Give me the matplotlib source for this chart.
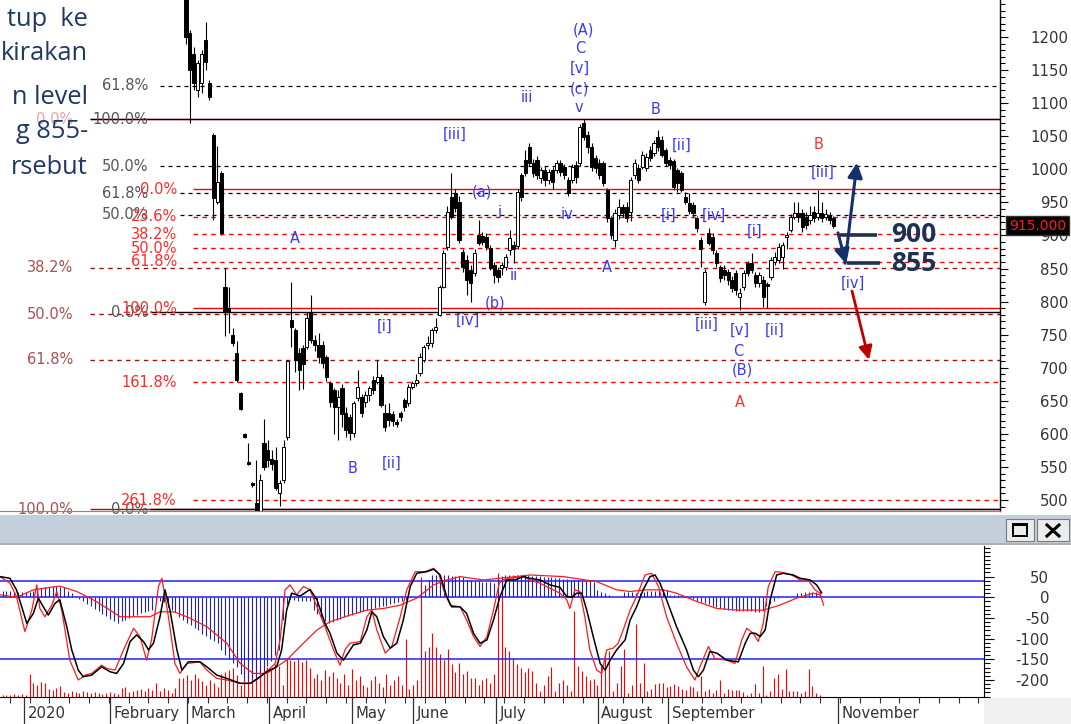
import numpy as np
import matplotlib.pyplot as plt
import matplotlib.transforms as mtransforms
from matplotlib.patches import Rectangle
from matplotlib.ticker import MultipleLocator

plt.rcParams['font.family'] = ['DejaVu Sans']
plt.rcParams['axes.unicode_minus'] = False

W, H = 1071, 724
BAR_PX = 3.9    # pixel step of one daily bar
X0_PX = 186     # pixel of bar 0

# ---- daily candles (bar 0 = early February) ----
opens = [1270, 1206, 1175, 1120, 1130, 1196, 1130, 1052, 951, 994,
         822, 790, 750, 722, 662, 600, 558, 525, 495, 482,
         586, 575, 562, 560, 511, 530, 595, 772, 757, 722,
         730, 731, 784, 742, 735, 734, 716, 677, 666, 641,
         670, 632, 625, 601, 655, 656, 648, 659, 681, 678,
         686, 632, 632, 630, 618, 632, 651, 647, 671, 677,
         692, 712, 734, 737, 757, 780, 822, 883, 958, 964,
         951, 875, 863, 848, 843, 901, 899, 898, 881, 855,
         848, 851, 852, 878, 886, 884, 991, 1014, 1034, 1010,
         1014, 987, 999, 984, 999, 999, 1010, 1004, 984, 984,
         1007, 1010, 1070, 1052, 1034, 1017, 1010, 1010, 969, 926,
         893, 931, 943, 943, 935, 991, 1002, 1004, 1002, 1029,
         1025, 1049, 1044, 1029, 1014, 1012, 999, 994, 958, 949,
         946, 926, 893, 799, 904, 898, 873, 852, 848, 845,
         833, 843, 807, 822, 858, 858, 840, 828, 833, 827,
         837, 860, 863, 868, 898, 908, 928, 934, 934, 928,
         923, 936, 928, 934, 928, 931, 926]
highs = [1285, 1210, 1185, 1165, 1180, 1222, 1135, 1055, 1035, 998,
         851, 822, 760, 740, 664, 602, 586, 527, 560, 540,
         623, 590, 575, 580, 530, 590, 712, 830, 760, 730,
         735, 785, 810, 750, 753, 740, 720, 680, 670, 666,
         675, 640, 630, 650, 697, 660, 665, 672, 688, 712,
         690, 645, 647, 635, 622, 635, 655, 675, 680, 690,
         722, 735, 748, 760, 775, 825, 878, 945, 994, 970,
         960, 880, 870, 855, 880, 923, 905, 903, 885, 860,
         852, 860, 872, 908, 892, 970, 994, 1029, 1040, 1015,
         1020, 1004, 1005, 1000, 1003, 1014, 1014, 1008, 988, 1008,
         1012, 1068, 1076, 1058, 1040, 1022, 1015, 1012, 972, 930,
         940, 955, 948, 950, 988, 1015, 1008, 1028, 1025, 1035,
         1045, 1059, 1050, 1032, 1018, 1015, 1002, 998, 965, 964,
         950, 930, 898, 850, 912, 903, 878, 856, 855, 850,
         838, 848, 820, 848, 862, 873, 845, 845, 838, 830,
         868, 875, 888, 890, 905, 933, 951, 950, 940, 935,
         945, 945, 968, 951, 940, 936, 930]
lows = [1190, 1070, 1120, 1110, 1115, 1150, 1105, 923, 948, 901,
        748, 753, 733, 678, 636, 594, 553, 520, 470, 475,
        545, 550, 545, 515, 491, 525, 590, 731, 694, 666,
        668, 728, 738, 725, 707, 700, 680, 640, 600, 590,
        610, 596, 590, 595, 650, 625, 640, 650, 660, 675,
        640, 605, 612, 612, 610, 620, 635, 642, 668, 672,
        688, 708, 728, 732, 752, 778, 820, 878, 925, 935,
        888, 845, 810, 800, 838, 885, 885, 878, 848, 828,
        830, 840, 848, 870, 858, 880, 952, 990, 1005, 988,
        985, 980, 975, 978, 970, 995, 990, 985, 960, 980,
        980, 1005, 1045, 1025, 998, 995, 985, 975, 920, 895,
        883, 925, 928, 920, 922, 985, 980, 1000, 998, 1012,
        1020, 1028, 1018, 1005, 1000, 968, 965, 965, 948, 932,
        928, 905, 852, 795, 885, 872, 852, 830, 832, 825,
        815, 810, 787, 818, 838, 843, 822, 822, 792, 790,
        832, 855, 858, 850, 880, 905, 925, 920, 905, 910,
        918, 920, 924, 920, 924, 918, 912]
closes = [1200, 1150, 1130, 1160, 1175, 1162, 1110, 956, 981, 904,
          784, 785, 737, 681, 638, 596, 555, 522, 478, 530,
          550, 560, 555, 518, 526, 580, 710, 762, 712, 697,
          705, 775, 742, 735, 716, 707, 686, 648, 641, 656,
          630, 606, 601, 647, 671, 632, 659, 669, 666, 686,
          644, 610, 621, 620, 615, 625, 641, 671, 677, 681,
          716, 731, 737, 757, 762, 822, 873, 935, 928, 941,
          893, 852, 833, 828, 873, 889, 890, 883, 851, 840,
          837, 855, 867, 896, 880, 965, 958, 994, 1010, 994,
          991, 999, 984, 996, 981, 1010, 996, 991, 964, 1004,
          988, 1064, 1049, 1034, 1004, 1002, 991, 979, 926, 901,
          934, 943, 934, 926, 984, 1010, 984, 1022, 1019, 1017,
          1040, 1034, 1022, 1010, 1007, 973, 979, 969, 951, 937,
          934, 911, 880, 845, 889, 878, 858, 836, 840, 833,
          821, 818, 813, 843, 843, 848, 828, 840, 807, 823,
          863, 867, 883, 885, 901, 928, 934, 928, 913, 916,
          931, 926, 934, 926, 932, 923, 915]

# ---- indicator panel, one value per bar from bar -47 ----
hist = [15, 16, 15, 14,
        12, 12, 13, 14, 16,
        20, 23, 25, 26, 27, 27, 26, 24,
        16, 10, 2,
        -5, -10, -16,
        -22, -28, -34, -40, -46, -52, -57, -61,
        -58, -54, -50, -46, -42, -38, -35, -32, -30,
        -14, -10, -12,
        -24, -30, -36, -48,
        -56, -62, -68, -74, -80,
        -88, -94, -100, -105, -110,
        -128, -140, -150, -160, -168,
        -186, -196, -204, -200,
        -192, -184, -176,
        -165, -155, -140, -127,
        -55, -15,
        -4, -6, -8, -10, -8, -10,
        -30, -40, -50, -58, -63, -60,
        -55, -52, -48, -45, -42, -39, -36, -33, -30,
        -28, -26, -24, -22, -20, -17, -14, -11, -8, -6,
        0, 0, 0,
        18, 30, 42, 54,
        55, 55, 54, 53, 52, 52, 51, 50,
        42, 41, 40, 39, 38, 37, 36, 35,
        48, 52, 54, 55, 54, 54, 54,
        54, 53, 52, 52, 51, 50, 49, 48, 47, 46, 45, 44, 43, 42, 41, 40, 40, 39, 38,
        18, 14, 10, 6,
        0, 0, 0,
        14, 13, 12, 11, 10,
        14, 15, 16, 16, 17, 18, 18,
        6, 6, 6, 5, 4,
        -2, -5, -8, -11, -14, -17, -20, -23, -26, -28, -31,
        -31, -32, -33, -33, -34, -34, -35, -35, -34,
        -22, -15, -8, -2,
        0, 0, 0, 0,
        10, 11, 12, 12, 13, 14, 14]
volume = [6, 5, 6, 7, 6, 8,
          6, 55,
          35, 30, 36, 34,
          20, 18, 22, 27,
          12, 10, 14, 12, 10, 14, 12, 10, 12,
          10, 8, 10, 12, 10,
          8, 22, 24, 12,
          15, 18, 20, 15, 22, 18,
          35, 14, 22, 18, 10, 22,
          47, 45, 52,
          40, 55, 45,
          38, 30, 42, 35, 23,
          55, 60, 65, 70, 52, 30,
          70, 110, 140, 164,
          70, 85, 72, 65, 80, 75,
          30, 95, 90, 88, 92, 85, 90,
          70, 45, 55, 40, 65, 50, 60,
          45, 35, 55, 30, 67, 40, 50, 30, 25,
          40, 50, 35, 25, 55, 30, 40, 51, 30,
          140, 20, 30, 40,
          290, 110, 120, 155, 120, 105, 90, 115,
          80, 60, 83, 55, 63, 45, 47, 30, 40, 47, 35, 55,
          300, 290,
          120, 110, 95, 80, 70, 60,
          70, 62, 35, 15, 30, 50, 73, 15, 35, 40, 30, 15,
          208, 75, 63, 50, 40, 43,
          30, 75, 107, 110, 15, 35,
          75, 115, 10, 30, 177, 35, 83, 15,
          20, 32, 35, 35, 24, 27, 31, 27, 20,
          18, 27, 25, 15, 50, 15, 20, 10, 18,
          42, 10, 20, 18, 18, 18, 12, 6,
          10, 31, 10, 75, 6, 15,
          47, 55, 20, 67, 15, 15,
          15, 10, 15, 67, 27, 10, 4]

# oscillator (black), fast oscillator (red) and its average, read at turning points
osc_days = [-47.7, -45.1, -43.4, -40.7, -39.0, -37.7, -36.4, -35.1, -33.4, -32.1,
            -30.3, -29.0, -27.3, -26.0, -23.8, -21.2, -19.0, -17.3, -15.5, -13.8,
            -12.1, -10.3, -9.0, -7.7, -6.0, -4.7, -3.4, -1.6, -0.3, 1.4,
            4.4, 6.2, 8.8, 11.4, 14.9, 17.5, 20.1, 21.8, 24.4, 25.7,
            27.0, 28.3, 30.5, 33.1, 34.9, 37.0, 38.3, 40.1, 41.8, 44.4,
            46.2, 47.9, 49.2, 50.5, 52.2, 54.0, 55.7, 57.4, 59.2, 60.9,
            63.5, 65.3, 67.0, 68.7, 70.0, 72.2, 73.9, 75.7, 77.4, 79.2,
            80.9, 82.6, 84.4, 86.6, 88.6,
            90.4, 93.0, 95.6, 98.2, 100.0, 101.3, 102.6, 103.9, 105.2, 106.9,
            108.7, 110.0, 111.3, 113.0, 115.2, 116.5, 118.2, 119.9, 121.7, 123.0,
            124.3, 126.0, 128.6, 131.2, 133.0, 134.3, 135.6, 137.3, 139.1, 141.7,
            144.7, 146.5, 147.8, 149.1, 150.4, 151.7, 153.0, 154.7, 156.4, 159.0,
            160.8, 163.4, 165.1, 166.4]
osc_black = [50, 46, 18, -63, -39, -2, -23, -43, -15, -6,
             -71, -127, -176, -192, -188, -168, -180, -184, -160, -107,
             -91, -107, -127, -111, -47, 18, -31, -127, -176, -156,
             -156, -168, -188, -196, -208, -208, -192, -180, -168, -127,
             -31, 10, 3, 19, -6, -63, -87, -135, -152, -115,
             -111, -79, -35, -47, -95, -123, -111, -55, 26, 58,
             62, 68, 54, 2, -23, -23, -39, -87, -111, -103,
             -55, 2, 42, 42, 50,
             46, 42, 30, 24, 2, 0, 10, 10, -31, -95,
             -160, -176, -152, -127, -103, -55, -23, 18, 50, 54,
             34, -6, -71, -127, -176, -192, -176, -131, -135, -152,
             -156, -111, -87, -87, -95, -79, -6, 54, 58, 54,
             46, 42, 30, 11]
red_days = [-47.7, -45.1, -43.4, -41.2, -39.4, -38.1, -37.3, -36.0, -34.2, -32.9,
            -31.6, -29.5, -27.3, -25.5, -23.8, -21.2, -19.9, -17.7, -15.5, -12.9,
            -11.2, -9.5, -8.2, -6.4, -5.5, -3.8, -2.1, -0.8, 1.0, 4.4,
            6.2, 8.8, 11.4, 14.9, 17.5, 19.2, 21.0, 22.7, 24.0, 25.3,
            26.6, 27.9, 29.6, 31.4, 33.1, 34.9, 37.0, 39.2, 40.9, 42.2,
            43.5, 46.2, 47.9, 49.2, 50.5, 52.7, 54.4, 56.6, 58.3, 60.5,
            63.1, 65.3, 66.6, 67.9, 69.6, 72.2, 73.9, 75.7, 77.4, 79.2,
            80.9, 82.4, 83.5, 85.3, 88.6,
            90.4, 93.0, 95.6, 98.2, 100.0, 100.8, 102.1, 103.4, 104.7, 106.0,
            107.8, 109.1, 110.4, 112.1, 113.4, 114.7, 116.5, 118.2, 120.4, 122.1,
            123.9, 126.0, 128.6, 131.2, 133.4, 134.7, 136.9, 138.6, 141.7, 143.8,
            145.6, 146.9, 148.6, 149.9, 151.2, 152.5, 154.3, 156.4, 158.6, 160.8,
            162.9, 164.7, 166.0, 166.9]
osc_red = [50, 34, 2, -83, -31, 30, -27, -47, -19, 14,
           -31, -152, -200, -188, -184, -164, -172, -176, -127, -75,
           -95, -152, -103, 26, 46, -47, -160, -184, -160, -156,
           -176, -196, -200, -208, -208, -200, -184, -172, -160, -103,
           18, 30, 6, 26, 18, -23, -71, -127, -164, -127,
           -111, -107, -47, -31, -79, -135, -119, -47, 18, 62,
           62, 70, 58, 18, -19, -23, -55, -95, -119, -95,
           -31, 34, 42, 46, 50,
           42, 34, 22, 10, -6, -27, 18, 14, -47, -127,
           -176, -184, -127, -123, -111, -79, -31, 2, 54, 58,
           26, -47, -111, -168, -200, -168, -119, -148, -152, -160,
           -103, -75, -87, -107, -63, 26, 62, 60, 54, 42,
           42, 18, 10, -19]
ma_days = [-47.7, -43.4, -39.0, -34.7, -32.1, -27.7, -23.4, -19.0, -16.4, -12.9,
           -8.6, -6.0, -2.5, 1.0, 6.2, 11.4, 14.9, 18.3, 21.8, 24.4,
           27.0, 30.5, 34.9, 38.3, 43.5, 47.9, 52.2, 56.6, 60.9, 65.3,
           68.7, 72.2, 78.3, 82.6, 88.6, 90.4, 99.1, 107.8, 113.0, 116.5,
           120.8, 125.2, 128.6, 133.8, 139.1, 144.3, 151.2, 155.5, 159.9, 164.2,
           166.0]
osc_ma = [6, 0, 18, 24, 27, 14, -6, -31, -47, -47,
          -47, -35, -35, -47, -71, -111, -160, -184, -184, -168,
          -152, -119, -79, -59, -43, -31, -27, -19, -2, 30,
          42, 50, 42, 46, 52, 54, 50, 38, 18, 14,
          18, 18, 10, -10, -27, -31, -31, -19, -2, 10,
          6]

# ---- fibonacci levels ----
fib_black = [1126, 1076, 1005, 964, 931, 784, 486]
fib_black_lab = ['61.8%', '100.0%', '50.0%', '61.8%', '50.0%', '0.0%', '0.0%']
fib_red = [970, 928, 902, 881, 860, 790, 678, 500]
fib_red_lab = ['0.0%', '23.6%', '38.2%', '50.0%', '61.8%', '100.0%', '161.8%', '261.8%']
fib_brown = [1076, 851, 781, 712, 486]
fib_brown_lab = ['0.0%', '38.2%', '50.0%', '61.8%', '100.0%']

# ---- elliott wave labels (text, bar, price, colour) ----
waves = [('A', 27.9, 895, 'b'), ('B', 42.6, 548, 'b'), ('[i]', 50.8, 763, 'b'),
         ('[ii]', 52.8, 556, 'b'), ('[iii]', 69.0, 1053, 'b'), ('[iv]', 72.3, 771, 'b'),
         ('(a)', 75.9, 966, 'b'), ('(b)', 79.2, 798, 'b'), ('i', 80.5, 935, 'b'),
         ('ii', 84.1, 839, 'b'), ('iii', 87.4, 1109, 'b'), ('iv', 97.7, 931, 'b'),
         ('(A)', 101.8, 1211, 'b'), ('C', 101.0, 1182, 'b'), ('[v]', 101.0, 1152, 'b'),
         ('(c)', 101.0, 1121, 'b'), ('v', 100.8, 1093, 'b'), ('B', 120.3, 1091, 'b'),
         ('A', 108.0, 851, 'b'), ('[ii]', 127.2, 1037, 'b'), ('[i]', 123.8, 931, 'b'),
         ('[iv]', 135.4, 931, 'b'), ('[iii]', 133.6, 766, 'b'), ('[v]', 142.1, 756, 'b'),
         ('C', 141.5, 725, 'b'), ('(B)', 142.6, 697, 'b'), ('[i]', 145.9, 907, 'b'),
         ('[ii]', 151.0, 756, 'b'), ('[iii]', 163.3, 996, 'b'), ('B', 162.3, 1038, 'r'),
         ('A', 142.1, 647, 'r'), ('[iv]', 171.0, 828, 'b')]

months = ['2020', 'February', 'March', 'April', 'May', 'June', 'July',
          'August', 'September', 'November']
month_pos = [-41.4, -19.0, 1.0, 22.4, 44.0, 59.9, 81.6, 108.1, 126.4, 170.7]

last_price = 915
target_hi, target_lo = 900, 855

note_lines = [('tup  ke', 20), ('kirakan', 53), ('n level', 97), ('g 855-', 132), ('rsebut', 167)]


def px2bar(px):  # pixel x -> bar index
    return (px - X0_PX) / BAR_PX


fig = plt.figure(figsize=(W / 100, H / 100), dpi=100, facecolor='white')
ax = fig.add_axes([0, 1 - 511 / H, 1000 / W, 511 / H])
ax2 = fig.add_axes([0, 1 - 697 / H, 984 / W, 151 / H])
xlim = (px2bar(0), px2bar(1000))

# ---------------- main price chart ----------------
ax.set_xlim(*xlim)
ax.set_ylim(483.4, 1256)

BLUE, RED = '#3838ff', '#ff3030'
dash = (0, (3.2, 3.2))

# fibonacci lines + labels
for p, lab in zip(fib_brown, fib_brown_lab):
    solid = p in (1076, 486)
    col = '#ff4040' if p == 1076 else '#a01010'
    ax.hlines(p, px2bar(90), xlim[1], color=col, lw=1.0, linestyles='-' if solid else dash, zorder=1)
    ax.text(px2bar(73), p, lab, ha='right', va='center', fontsize=10.5,
            color='#f0a0a0' if p == 1076 else '#a85050', zorder=2)
for p, lab in zip(fib_black, fib_black_lab):
    solid = p in (1076, 784, 486)
    x0 = 90 if p == 1076 else (150 if solid else (160 if p > 1000 else 180))
    ax.hlines(p, px2bar(x0), xlim[1], color='black', lw=1.0 if solid else 0.9,
              linestyles='-' if solid else dash, zorder=1.5)
    ax.text(px2bar(148), p, lab, ha='right', va='center', fontsize=10.5, color='#555555', zorder=2)
for p, lab in zip(fib_red, fib_red_lab):
    solid = p in (970, 790)
    ax.hlines(p, px2bar(193), xlim[1], color='#ff0000', lw=1.0, linestyles='-' if solid else dash, zorder=1.6)
    ax.text(px2bar(177), p, lab, ha='right', va='center', fontsize=10.5, color='#ff2a2a', zorder=2)

# candles
o, h, l, c = map(np.array, (opens, highs, lows, closes))
days = np.arange(len(c))
up = c >= o
ax.vlines(days, l, h, color='black', lw=0.8, zorder=3)
lo = np.minimum(o, c)
ht = np.maximum(np.abs(c - o), 1.5)
ax.bar(days[up], ht[up], bottom=lo[up], width=0.78, facecolor='white', edgecolor='black', lw=0.7, zorder=4)
ax.bar(days[~up], ht[~up], bottom=lo[~up], width=0.78, facecolor='black', edgecolor='black', lw=0.7, zorder=4)

# wave labels
for txt, d, p, col in waves:
    ax.text(d, p, txt, ha='center', va='center', fontsize=10.5,
            color=BLUE if col == 'b' else RED, zorder=6)

# forecast arrows
NAVY = '#15306a'
ax.annotate('', xy=(px2bar(857), 1010), xytext=(px2bar(845), 858),
            arrowprops=dict(arrowstyle='-|>', color=NAVY, lw=2.2, mutation_scale=22, shrinkA=0, shrinkB=0), zorder=7)
ax.annotate('', xy=(px2bar(846), 857), xytext=(px2bar(838), 904),
            arrowprops=dict(arrowstyle='-|>', color=NAVY, lw=2.2, mutation_scale=22, shrinkA=0, shrinkB=0), zorder=7)
ax.annotate('', xy=(px2bar(869), 712), xytext=(px2bar(852), 816),
            arrowprops=dict(arrowstyle='-|>', color='#c00000', lw=2.0, mutation_scale=20, shrinkA=0, shrinkB=0), zorder=7)
ax.hlines(target_hi + 1, px2bar(840), px2bar(877), color='#1f3050', lw=2.6, zorder=7)
ax.hlines(target_lo + 3, px2bar(847), px2bar(880), color='#1f3050', lw=2.6, zorder=7)
for val in (target_hi, target_lo):
    ax.text(px2bar(891), val + (1 if val == target_hi else 3), str(val), ha='left', va='center',
            fontsize=19, fontweight='bold', color='#1f3050',
            family=['Open Sans', 'DejaVu Sans'], zorder=7)

# right axis
for s in ('left', 'top'):
    ax.spines[s].set_visible(False)
ax.spines['bottom'].set_color('#888888')
ax.spines['right'].set_linewidth(1.0)
ax.set_xticks([])
ax.yaxis.tick_right()
ax.set_yticks(range(500, 1201, 50))
ax.yaxis.set_minor_locator(MultipleLocator(10))
ax.tick_params(axis='y', which='major', length=6, width=0.8, pad=43, labelsize=10.7, labelcolor='#333333')
ax.tick_params(axis='y', which='minor', length=3.5, width=0.8)
for t in ax.get_yticklabels():
    t.set_ha('right')
ax.text(1.009, last_price, '%.3f' % last_price, transform=mtransforms.blended_transform_factory(ax.transAxes, ax.transData),
        ha='left', va='center', fontsize=10, color='#ff1a1a', clip_on=False, zorder=10,
        bbox=dict(facecolor='black', edgecolor='#333333', boxstyle='square,pad=0.2'))

# ---------------- indicator panel ----------------
ax2.set_xlim(*xlim)
ax2.set_ylim(-241, 124)
ind_days = np.arange(-47, -47 + len(hist))
vol_days = np.arange(-47, -47 + len(volume))
ax2.vlines(vol_days, -241, -241 + np.array(volume), color='#ff0000', lw=0.8, zorder=1)
ax2.vlines(ind_days, 0, hist, color='#24249a', lw=0.8, zorder=2)
for lvl in (40, 0, -150):
    ax2.axhline(lvl, color='#2020ff', lw=1.1, zorder=3)
ax2.plot(ma_days, osc_ma, color='#ff1a1a', lw=0.9, zorder=4)
ax2.plot(red_days, osc_red, color='#ff1a1a', lw=0.9, zorder=5)
ax2.plot(osc_days, osc_black, color='black', lw=1.1, zorder=6)

for s in ('left', 'top'):
    ax2.spines[s].set_visible(False)
ax2.yaxis.tick_right()
ax2.set_yticks(range(-200, 51, 50))
ax2.yaxis.set_minor_locator(MultipleLocator(10))
ax2.tick_params(axis='y', which='major', length=7, width=0.8, pad=40, labelsize=10.7, labelcolor='#333333')
ax2.tick_params(axis='y', which='minor', length=4, width=0.8)
for t in ax2.get_yticklabels():
    t.set_ha('right')

# time axis: weekly minor ticks, long month ticks with labels drawn beside them
ax2.set_xticks(month_pos)
ax2.set_xticklabels([])
ax2.set_xticks(np.arange(-45.1, xlim[1], 5.15), minor=True)
ax2.tick_params(axis='x', which='major', length=19.5, width=0.9, color='#333333')
ax2.tick_params(axis='x', which='minor', length=4.5, width=0.8, color='#333333')
lab_tr = mtransforms.offset_copy(mtransforms.blended_transform_factory(ax2.transData, ax2.transAxes),
                                 fig=fig, x=3.5, y=0, units='dots')
for m, pos in zip(months, month_pos):
    ax2.text(pos, -0.106, m, transform=lab_tr, ha='left', va='center', fontsize=10.7, color='#333333', clip_on=False)


# ---------------- window chrome ----------------
def px_rect(x0, y0, x1, y1, **kw):
    fig.add_artist(Rectangle((x0 / W, 1 - y1 / H), (x1 - x0) / W, (y1 - y0) / H,
                             transform=fig.transFigure, **kw))


px_rect(0, 515, W, 544, facecolor='#c3cfdb', edgecolor='none')
px_rect(0, 543, W, 545, facecolor='#a9b1ba', edgecolor='none')
px_rect(984, 698, W, H, facecolor='#f0f0f0', edgecolor='none')
px_rect(1006, 519, 1034, 541, facecolor='#ececec', edgecolor='#7a7a7a', lw=0.8)
px_rect(1037, 519, 1069, 541, facecolor='#ececec', edgecolor='#7a7a7a', lw=0.8)
px_rect(1013, 524, 1027, 536, facecolor='none', edgecolor='black', lw=1.4)
px_rect(1013, 524, 1027, 526, facecolor='black', edgecolor='none')
fig.add_artist(plt.Line2D([1047 / W, 1059 / W], [1 - 525 / H, 1 - 536 / H], color='black', lw=2.2))
fig.add_artist(plt.Line2D([1047 / W, 1059 / W], [1 - 536 / H, 1 - 525 / H], color='black', lw=2.2))

# partly hidden note text at top-left
for txt, y in note_lines:
    fig.text(88 / W, 1 - y / H, txt, ha='right', va='center', fontsize=18.3, color='#1f3864',
             family=['Open Sans', 'DejaVu Sans'])

fig.savefig('out.png', dpi=100, facecolor='white')
